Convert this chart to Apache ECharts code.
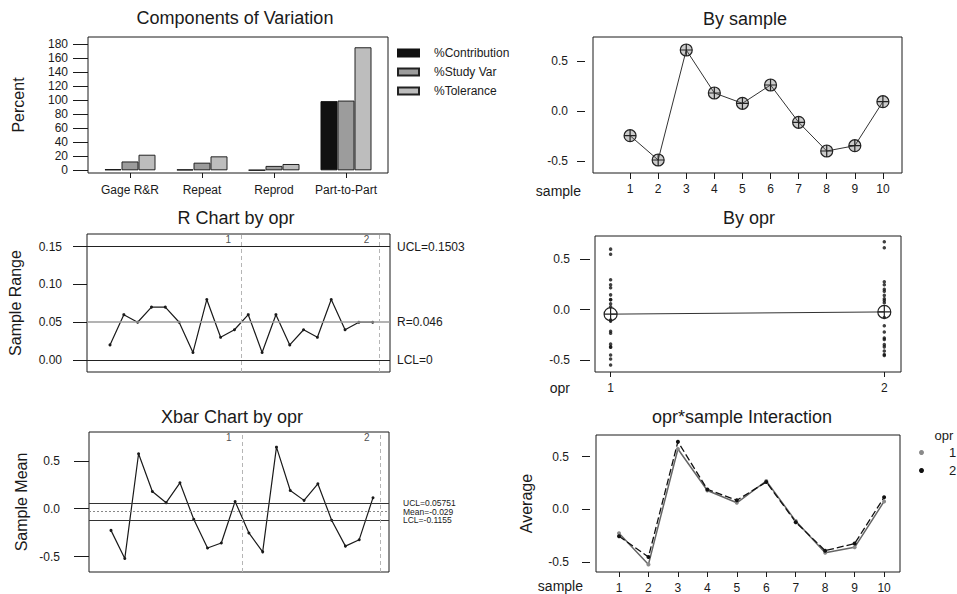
<!DOCTYPE html>
<html>
<head>
    <meta charset="utf-8"/>
    <title>Gage R&amp;R (ANOVA) report</title>
    <style>
        html, body { margin: 0; padding: 0; background: #fff; }
        #main { width: 957px; height: 594px; }
    </style>
</head>
<body>
<div id="main"></div>
<script src="https://cdn.jsdelivr.net/npm/echarts@6/dist/echarts.min.js"></script>
<script>
    // Components of Variation
    var components = ['Gage R&R', 'Repeat', 'Reprod', 'Part-to-Part'];
    var pctContribution = [1.6, 1.2, 0.4, 98.4];
    var pctStudyVar = [12.6, 10.9, 6.3, 99.2];
    var pctTolerance = [22.2, 19.9, 9.0, 175];
    var percentTicks = [0, 20, 40, 60, 80, 100, 120, 140, 160, 180];

    // R chart by opr (subgroups 1-10 = opr 1, 11-20 = opr 2)
    var sampleRange = [0.02, 0.06, 0.05, 0.07, 0.07, 0.05, 0.01, 0.08, 0.03, 0.04,
                       0.06, 0.01, 0.06, 0.02, 0.04, 0.03, 0.08, 0.04, 0.05, 0.05];
    var rLimits = [0.1503, 0.046, 0];          // UCL, R, LCL
    var rTicks = [0, 0.05, 0.10, 0.15];

    // Xbar chart by opr / interaction (average per sample for each opr)
    var xbarOpr1 = [-0.226, -0.52, 0.573, 0.18, 0.063, 0.27, -0.11, -0.41, -0.358, 0.076];
    var xbarOpr2 = [-0.253, -0.45, 0.642, 0.19, 0.087, 0.26, -0.12, -0.39, -0.323, 0.115];
    var xbarLimits = [0.05751, -0.029, -0.1155]; // UCL, Mean, LCL
    var halfTicks = [-0.5, 0, 0.5];

    // By sample
    var samples = [1, 2, 3, 4, 5, 6, 7, 8, 9, 10];
    var sampleMeans = [-0.247, -0.49, 0.61, 0.18, 0.077, 0.26, -0.113, -0.40, -0.347, 0.093];

    // By opr: single measurements and opr means
    var oprs = [1, 2];
    var opr1Values = [-0.216, -0.236, -0.49, -0.55, 0.598, 0.548, 0.215, 0.145, 0.098, 0.028,
                      0.295, 0.245, -0.105, -0.115, -0.37, -0.45, -0.343, -0.373, 0.096, 0.056];
    var opr2Values = [-0.223, -0.283, -0.445, -0.455, 0.672, 0.612, 0.20, 0.18, 0.107, 0.067,
                      0.275, 0.245, -0.08, -0.16, -0.37, -0.41, -0.298, -0.348, 0.14, 0.09];
    var oprMeans = [-0.046, -0.024];
    var oprBoundaries = [10.5, 20.5];

    var font = "'Liberation Sans', Arial, sans-serif";
    var ink = '#1a1a1a';
    var plusCircle = 'path://M10 0A10 10 0 1 1 10 20A10 10 0 1 1 10 0ZM10 0L10 20M0 10L20 10';

    var chart = echarts.init(document.getElementById('main'), null, {renderer: 'svg'});

    var frame = function (left, top, width, height) {
        return {left: left, top: top, width: width, height: height, show: true,
            borderColor: ink, borderWidth: 1, backgroundColor: 'transparent', outerBoundsMode: 'none'};
    };

    // value axis with Minitab-like outside ticks
    var valAxis = function (o) {
        var hasTicks = !!o.ticks;
        return {
            type: 'value',
            gridIndex: o.grid,
            min: o.min,
            max: o.max,
            show: o.show !== false,
            offset: o.offset || 0,
            axisLine: {show: false, onZero: false},
            splitLine: {show: false},
            axisTick: {show: hasTicks, customValues: o.ticks, length: o.tickLen || 6, inside: false,
                lineStyle: {color: ink, width: 1}},
            axisLabel: {show: hasTicks, customValues: o.ticks, margin: o.margin || 8, color: ink,
                fontSize: 12, fontFamily: font,
                formatter: function (v) { return o.digits === undefined ? String(v) : v.toFixed(o.digits); }},
            name: o.name || '',
            nameLocation: 'middle',
            nameGap: o.nameGap || 0,
            nameTextStyle: {fontSize: 16, color: ink, fontFamily: font}
        };
    };

    var makeTitle = function (text, x, y, size, align) {
        return {text: text, left: x, top: y, textAlign: align || 'center', textVerticalAlign: 'middle',
            padding: 0, textStyle: {fontSize: size, fontWeight: 'normal', color: ink, fontFamily: font}};
    };

    var limitLine = function (value, label, color, type, width) {
        return {yAxis: value, lineStyle: {color: color, type: type, width: width},
            label: {show: true, position: 'end', formatter: label}};
    };
    var sepLine = function (value) {
        return {xAxis: value, lineStyle: {color: '#b5b5b5', type: [4, 3], width: 1}, label: {show: false}};
    };

    var pairs = function (xs, ys) {
        var out = [];
        for (var i = 0; i < ys.length; i++) out.push([xs[i], ys[i]]);
        return out;
    };
    var index = function (n) {
        var out = [];
        for (var i = 1; i <= n; i++) out.push(i);
        return out;
    };
    var subgroupMeans = xbarOpr1.concat(xbarOpr2);

    // labels "1" / "2" placed just left of each opr boundary, near the top of the plot
    var oprTags = function (yTop) {
        var out = [];
        for (var i = 0; i < oprBoundaries.length; i++) {
            out.push({value: [oprBoundaries[i] - 0.95, yTop], label: {formatter: String(oprs[i])}});
        }
        return out;
    };
    var tagLabel = {show: true, position: 'inside', color: ink, fontSize: 10, fontFamily: font,
        textBorderWidth: 0, textBorderColor: 'transparent'};

    var byOprDots = [];
    for (var i = 0; i < opr1Values.length; i++) byOprDots.push([oprs[0], opr1Values[i]]);
    for (var j = 0; j < opr2Values.length; j++) byOprDots.push([oprs[1], opr2Values[j]]);

    var option = {
        backgroundColor: '#fff',
        animation: false,
        textStyle: {fontFamily: font},
        title: [
            makeTitle('Components of Variation', 235, 18, 18),
            makeTitle('By sample', 745, 19, 18),
            makeTitle('R Chart by opr', 236, 218, 18),
            makeTitle('By opr', 749, 218, 18),
            makeTitle('Xbar Chart by opr', 232, 417, 18),
            makeTitle('opr*sample Interaction', 742, 417, 18),
            makeTitle('sample', 581, 191, 14, 'right'),
            makeTitle('opr', 570, 388, 14, 'right'),
            makeTitle('sample', 583, 586, 14, 'right'),
            makeTitle('opr', 944, 435, 13)
        ],
        legend: [
            {
                data: ['%Contribution', '%Study Var', '%Tolerance'],
                left: 397, top: 47, orient: 'vertical', icon: 'rect', padding: 0,
                itemWidth: 21, itemHeight: 7, itemGap: 7, selectedMode: false,
                textStyle: {fontSize: 12, color: ink, fontFamily: font, padding: [0, 0, 0, 10]}
            },
            {
                data: ['1', '2'],
                left: 919, top: 446, orient: 'vertical', icon: 'circle', padding: 0,
                itemWidth: 5, itemHeight: 5, itemGap: 5, selectedMode: false,
                textStyle: {fontSize: 13, color: ink, fontFamily: font, padding: [0, 0, 0, 20]}
            }
        ],
        grid: [
            frame(88, 37, 300, 136),    // 0 components frame
            frame(593, 37, 309, 136),   // 1 by sample
            frame(87, 234, 303, 138),   // 2 R chart
            frame(89, 432, 300, 140),   // 3 Xbar chart
            frame(595, 236, 306, 136),  // 4 by opr
            frame(596, 435, 304, 137),  // 5 interaction
            {left: 94, top: 37, width: 288, height: 136, show: false, outerBoundsMode: 'none'} // 6 bars
        ],
        xAxis: [
            valAxis({grid: 0, min: 0, max: 1, show: false}),
            valAxis({grid: 1, min: -0.32, max: 10.68, ticks: samples, tickLen: 6, margin: 10}),
            valAxis({grid: 2, min: -0.663, max: 21.25, show: false}),
            valAxis({grid: 3, min: -0.595, max: 21.16, show: false}),
            valAxis({grid: 4, min: 0.943, max: 2.061, ticks: oprs, tickLen: 5, margin: 10}),
            valAxis({grid: 5, min: 0.219, max: 10.54, ticks: samples, tickLen: 5, margin: 10}),
            {
                type: 'category', gridIndex: 6, data: components,
                axisLine: {show: false, onZero: false},
                axisTick: {show: true, alignWithLabel: true, length: 5, lineStyle: {color: ink}},
                axisLabel: {color: ink, fontSize: 12, fontFamily: font, margin: 11, interval: 0}
            }
        ],
        yAxis: [
            valAxis({grid: 0, min: -3.8, max: 189.6, ticks: percentTicks, digits: 0, tickLen: 15, margin: 20,
                name: 'Percent', nameGap: 62}),
            valAxis({grid: 1, min: -0.62, max: 0.74, ticks: halfTicks, digits: 1, offset: 8, tickLen: 8, margin: 17}),
            valAxis({grid: 2, min: -0.0159, max: 0.1668, ticks: rTicks, digits: 2, tickLen: 14, margin: 25,
                name: 'Sample Range', nameGap: 64}),
            valAxis({grid: 3, min: -0.66, max: 0.80, ticks: halfTicks, digits: 1, tickLen: 15, margin: 29,
                name: 'Sample Mean', nameGap: 60}),
            valAxis({grid: 4, min: -0.619, max: 0.728, ticks: halfTicks, digits: 1, offset: 5, tickLen: 10, margin: 20}),
            valAxis({grid: 5, min: -0.592, max: 0.705, ticks: halfTicks, digits: 1, offset: 6, tickLen: 8, margin: 21,
                name: 'Average', nameGap: 56}),
            valAxis({grid: 6, min: -3.8, max: 189.6, show: false})
        ],
        series: [
            {
                name: '%Contribution', type: 'bar', xAxisIndex: 6, yAxisIndex: 6, data: pctContribution,
                barWidth: 17, barGap: '0%',
                itemStyle: {color: '#111', borderColor: '#111', borderWidth: 1}
            },
            {
                name: '%Study Var', type: 'bar', xAxisIndex: 6, yAxisIndex: 6, data: pctStudyVar,
                barWidth: 17, barGap: '0%',
                itemStyle: {color: '#9c9c9c', borderColor: '#222', borderWidth: 1}
            },
            {
                name: '%Tolerance', type: 'bar', xAxisIndex: 6, yAxisIndex: 6, data: pctTolerance,
                barWidth: 17, barGap: '0%',
                itemStyle: {color: '#bdbdbd', borderColor: '#222', borderWidth: 1}
            },
            {
                name: 'sampleMeans', type: 'line', xAxisIndex: 1, yAxisIndex: 1,
                data: pairs(samples, sampleMeans),
                symbol: plusCircle, symbolSize: 12,
                lineStyle: {color: '#333', width: 1},
                itemStyle: {color: 'rgba(110,110,110,0.35)', borderColor: '#222', borderWidth: 1.2}
            },
            {
                name: 'range', type: 'line', xAxisIndex: 2, yAxisIndex: 2,
                data: pairs(index(sampleRange.length), sampleRange),
                symbol: 'circle', symbolSize: 3,
                lineStyle: {color: ink, width: 1.2}, itemStyle: {color: ink},
                markLine: {
                    silent: true, symbol: 'none',
                    label: {color: ink, fontSize: 12, fontFamily: font, distance: 7},
                    data: [
                        limitLine(rLimits[0], 'UCL=' + rLimits[0], '#222', 'solid', 1.2),
                        limitLine(rLimits[1], 'R=' + rLimits[1], '#9a9a9a', 'solid', 1.5),
                        limitLine(rLimits[2], 'LCL=' + rLimits[2], '#222', 'solid', 1.2),
                        sepLine(oprBoundaries[0]),
                        sepLine(oprBoundaries[1])
                    ]
                }
            },
            {
                name: 'rTags', type: 'scatter', xAxisIndex: 2, yAxisIndex: 2,
                data: oprTags(0.160), symbolSize: 1, itemStyle: {color: 'transparent'},
                label: tagLabel
            },
            {
                name: 'xbar', type: 'line', xAxisIndex: 3, yAxisIndex: 3,
                data: pairs(index(subgroupMeans.length), subgroupMeans),
                symbol: 'circle', symbolSize: 3,
                lineStyle: {color: ink, width: 1.2}, itemStyle: {color: ink},
                markLine: {
                    silent: true, symbol: 'none',
                    label: {color: ink, fontSize: 8.5, lineHeight: 8, fontFamily: font, distance: 14},
                    data: [
                        limitLine(xbarLimits[0], 'UCL=' + xbarLimits[0], '#333', 'solid', 1.2),
                        limitLine(xbarLimits[1], 'Mean=' + xbarLimits[1], '#888', [2, 2], 1.2),
                        limitLine(xbarLimits[2], 'LCL=' + xbarLimits[2], '#333', 'solid', 1.2),
                        sepLine(oprBoundaries[0]),
                        sepLine(oprBoundaries[1])
                    ]
                }
            },
            {
                name: 'xbarTags', type: 'scatter', xAxisIndex: 3, yAxisIndex: 3,
                data: oprTags(0.745), symbolSize: 1, itemStyle: {color: 'transparent'},
                label: tagLabel
            },
            {
                name: 'oprDots', type: 'scatter', xAxisIndex: 4, yAxisIndex: 4,
                data: byOprDots, symbolSize: 3.5, itemStyle: {color: '#111'}
            },
            {
                name: 'oprMeans', type: 'line', xAxisIndex: 4, yAxisIndex: 4,
                data: pairs(oprs, oprMeans),
                symbol: plusCircle, symbolSize: 13,
                lineStyle: {color: '#333', width: 1},
                itemStyle: {color: 'rgba(255,255,255,0)', borderColor: '#222', borderWidth: 1.2},
                z: 3
            },
            {
                name: '1', type: 'line', xAxisIndex: 5, yAxisIndex: 5,
                data: pairs(samples, xbarOpr1),
                symbol: 'circle', symbolSize: 4,
                lineStyle: {color: '#666', width: 1.5, type: 'solid'},
                itemStyle: {color: '#8a8a8a'}
            },
            {
                name: '2', type: 'line', xAxisIndex: 5, yAxisIndex: 5,
                data: pairs(samples, xbarOpr2),
                symbol: 'circle', symbolSize: 4,
                lineStyle: {color: '#111', width: 1.3, type: [7, 3]},
                itemStyle: {color: '#111'}
            }
        ]
    };

    chart.setOption(option);
</script>
</body>
</html>
